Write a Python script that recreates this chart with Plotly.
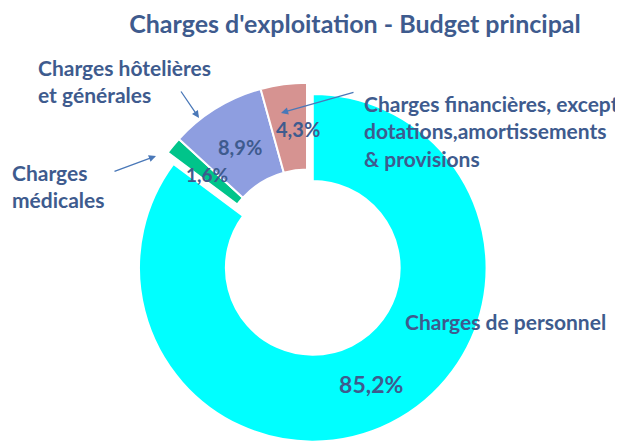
import plotly.graph_objects as go

labels = ["Charges de personnel", "Charges médicales", "Charges hôtelières et générales",
          "Charges financières, except. dotations,amortissements & provisions"]
values = [85.2, 1.6, 8.9, 4.3]
colors = ["#00FFFF", "#00C48A", "#8E9EE0", "#D69391"]
pulls = [0.074, 0, 0, 0]

TXT = "#3E5B8E"
FONT = "Lato"

# page body has an 8px margin: figure is sized to fill the rest of the window
W, H, OFF = 615, 435, 8


def px(x):
    return (x - OFF) / W


def py(y):
    return 1 - (y - OFF) / H


def pct(v):
    return f"{v / sum(values) * 100:.1f}%".replace(".", ",")


fig = go.Figure(go.Pie(
    labels=labels, values=values, sort=False, direction="clockwise", rotation=0,
    hole=0.5, pull=pulls,
    marker=dict(colors=colors, line=dict(color="white", width=2)),
    texttemplate="%{percent:.1%}",
    textposition=["inside", "none", "none", "none"],
    insidetextorientation="horizontal",
    textfont=dict(family=FONT, size=23, color=TXT, weight="bold"),
    domain=dict(x=[0.1805, 0.7919], y=[0, 0.858]),
    hoverinfo="skip", showlegend=False,
))

ann_font = dict(family=FONT, size=21, color=TXT, weight="bold")
arrow_col = "#4A78B8"


def label(text, x, y):
    return dict(text=text, x=px(x), y=py(y), xref="paper", yref="paper",
                xanchor="left", yanchor="middle", align="left",
                showarrow=False, font=ann_font)


def value_label(v, x, y, size):
    return dict(text=pct(v), x=px(x), y=py(y), xref="paper", yref="paper",
                xanchor="center", yanchor="middle", showarrow=False,
                font=dict(family=FONT, size=size, color=TXT, weight="bold"))


def arrow(x0, y0, x1, y1):
    return dict(text="", x=px(x1), y=py(y1), xref="paper", yref="paper",
                ax=x0 - x1, ay=y0 - y1, showarrow=True, arrowhead=2,
                arrowsize=1.1, arrowwidth=1.3, arrowcolor=arrow_col)


annotations = [
    label("Charges hôtelières<br>et générales", 36, 81),
    label("Charges<br>médicales", 10, 186),
    label("Charges financières, except.<br>dotations,amortissements<br>&amp; provisions", 362, 131),
    label("Charges de personnel", 403, 321),
    value_label(values[1], 207, 174, 19),
    value_label(values[2], 240, 147, 20),
    value_label(values[3], 298, 129, 20),
    arrow(180, 90, 199, 118),
    arrow(113, 172, 156, 156),
    arrow(355, 92, 281, 113),
]

fig.update_layout(
    width=W, height=H,
    margin=dict(l=0, r=0, t=0, b=0),
    paper_bgcolor="white", plot_bgcolor="white",
    separators=", ",
    title=dict(text="Charges d'exploitation - Budget principal", x=px(355), y=py(24),
               xanchor="center", yanchor="middle",
               font=dict(family=FONT, size=25, color=TXT, weight="bold")),
    annotations=annotations,
)

fig.write_html("out.html")
